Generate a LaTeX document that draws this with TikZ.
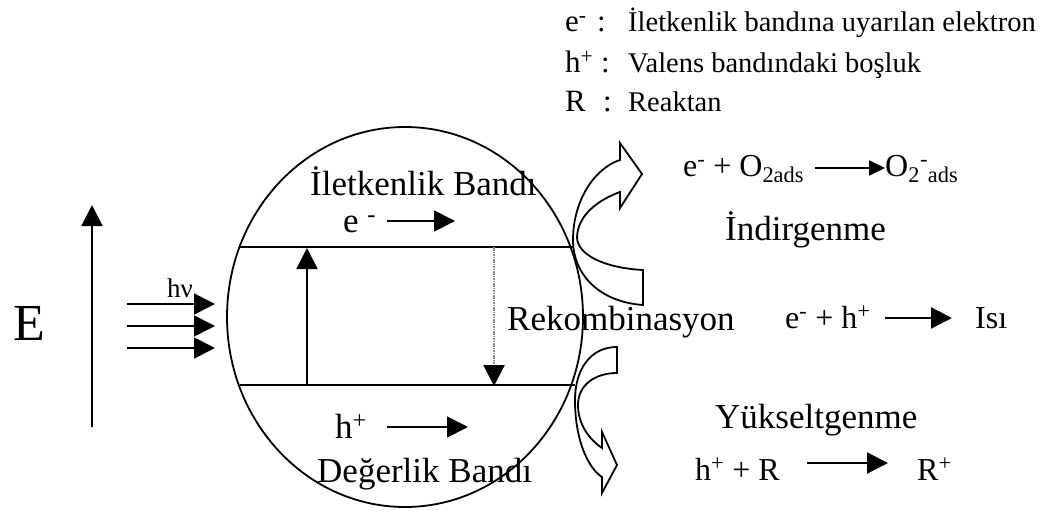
\documentclass[tikz,border=0pt]{standalone}
\usepackage{fontspec}
\setmainfont{Liberation Serif}
\usetikzlibrary{arrows.meta,shapes.geometric}
\begin{document}
\begin{tikzpicture}[x=1pt,y=-1pt,
  lw/.style={line width=1.8pt},
  txt/.style={inner sep=0pt, anchor=base west},
  bigtxt/.style={font=\fontsize{35}{40}\selectfont},
  rxntxt/.style={font=\fontsize{32}{36}\selectfont},
  legtxt/.style={font=\fontsize{28.5}{32}\selectfont},
  symtxt/.style={font=\fontsize{31}{34}\selectfont},
  tri/.style={-{Triangle[length=21pt,width=21pt]}},
  smalltri/.style={-{Triangle[length=16pt,width=15pt]}},
]
\useasboundingbox (0,0) rectangle (1045,511);

% semiconductor particle
\node[draw, lw, ellipse, minimum width=356pt, minimum height=380pt, inner sep=0pt] (particle) at (405,317) {};

% band edges
\coordinate (cbL) at (239,247); \coordinate (cbR) at (573,247);
\coordinate (vbL) at (240,385); \coordinate (vbR) at (575,385);
\draw[lw] (cbL) -- (cbR);
\draw[lw] (vbL) -- (vbR);

% excitation and recombination
\coordinate (exA) at (307,385); \coordinate (exB) at (307,248);
\draw[lw, tri] (exA) -- (exB);
\coordinate (reA) at (494,247); \coordinate (reB) at (494,386);
\draw[line width=2.2pt, black!45, dash pattern=on 1.6pt off 0.8pt, -{Triangle[length=21pt,width=21pt,color=black]}] (reA) -- (reB);

% energy axis
\coordinate (eaA) at (92,427); \coordinate (eaB) at (92,205);
\draw[lw, tri] (eaA) -- (eaB);
\node[inner sep=0pt, anchor=base, font=\fontsize{52}{56}\selectfont] (Elab) at (29,340) {E};

% incoming light
\foreach \i/\y in {1/304, 2/326, 3/348} {
  \coordinate (hvA\i) at (127,\y); \coordinate (hvB\i) at (215,\y);
  \draw[lw, tri] (hvA\i) -- (hvB\i);
}
\node[txt, font=\fontsize{27}{30}\selectfont] (hv) at (167,297) {hν};

% band labels
\node[txt, bigtxt] (cb) at (310,195) {İletkenlik Bandı};
\node[txt, bigtxt] (vb) at (317,482) {Değerlik Bandı};
\node[txt, bigtxt] (eband) at (343,232) {e \textsuperscript{-}};
\node[txt, bigtxt] (hband) at (335,438) {h\textsuperscript{+}};
\coordinate (emA) at (387,221); \coordinate (emB) at (455,221);
\draw[lw, tri] (emA) -- (emB);
\coordinate (hmA) at (387,427); \coordinate (hmB) at (468,427);
\draw[lw, tri] (hmA) -- (hmB);

% curved block arrows leaving the particle
\draw[lw, line join=miter]
  (643,305) .. controls (600,302) and (573,275) .. (573,240)
  .. controls (573,200) and (595,168) .. (620,160)
  -- (620,143) -- (642,174) -- (620,208) -- (620,192)
  .. controls (598,200) and (578,215) .. (577,237)
  .. controls (577,255) and (605,268) .. (643,270) -- cycle;
\draw[lw, line join=miter]
  (617,347) .. controls (590,347) and (575,370) .. (575,400)
  .. controls (575,440) and (588,468) .. (602,477)
  -- (602,493) -- (617,465) -- (602,432) -- (602,448)
  .. controls (590,440) and (578,425) .. (578,405)
  .. controls (578,385) and (595,373) .. (617,373) -- cycle;

% processes
\node[txt, bigtxt] (rek) at (507,330) {Rekombinasyon};
\node[txt, bigtxt] (ind) at (725,240) {İndirgenme};
\node[txt, bigtxt] (yuk) at (715,428) {Yükseltgenme};

% reduction
\node[txt, font=\fontsize{32}{36}\selectfont] (r1a) at (683,176) {e\textsuperscript{-} + O\textsubscript{2ads}};
\node[txt, font=\fontsize{32}{36}\selectfont] (r1b) at (885,176) {O\textsubscript{2}\textsuperscript{-}\textsubscript{ads}};
\coordinate (r1A) at (815,168); \coordinate (r1B) at (885,168);
\draw[line width=2.2pt, smalltri] (r1A) -- (r1B);

% recombination
\node[txt, rxntxt] (r2a) at (785,328) {e\textsuperscript{-} + h\textsuperscript{+}};
\node[txt, rxntxt] (r2b) at (975,328) {Isı};
\coordinate (r2A) at (885,318); \coordinate (r2B) at (952,318);
\draw[line width=2.2pt, tri] (r2A) -- (r2B);

% oxidation
\node[txt, rxntxt] (r3a) at (695,480) {h\textsuperscript{+} + R};
\node[txt, rxntxt] (r3b) at (917,480) {R\textsuperscript{+}};
\coordinate (r3A) at (807,463); \coordinate (r3B) at (888,463);
\draw[line width=2.2pt, tri] (r3A) -- (r3B);

% legend
\node[txt, symtxt] (l1s) at (565,32) {e\textsuperscript{-}};
\node[txt, symtxt] (l1c) at (597,32) {:};
\node[txt, legtxt] (l1t) at (628,32) {İletkenlik bandına uyarılan elektron};
\node[txt, symtxt] (l2s) at (565,73) {h\textsuperscript{+}};
\node[txt, symtxt] (l2c) at (601,73) {:};
\node[txt, legtxt] (l2t) at (628,73) {Valens bandındaki boşluk};
\node[txt, symtxt] (l3s) at (565,112) {R};
\node[txt, symtxt] (l3c) at (603,112) {:};
\node[txt, legtxt] (l3t) at (628,112) {Reaktan};
\end{tikzpicture}
\end{document}
